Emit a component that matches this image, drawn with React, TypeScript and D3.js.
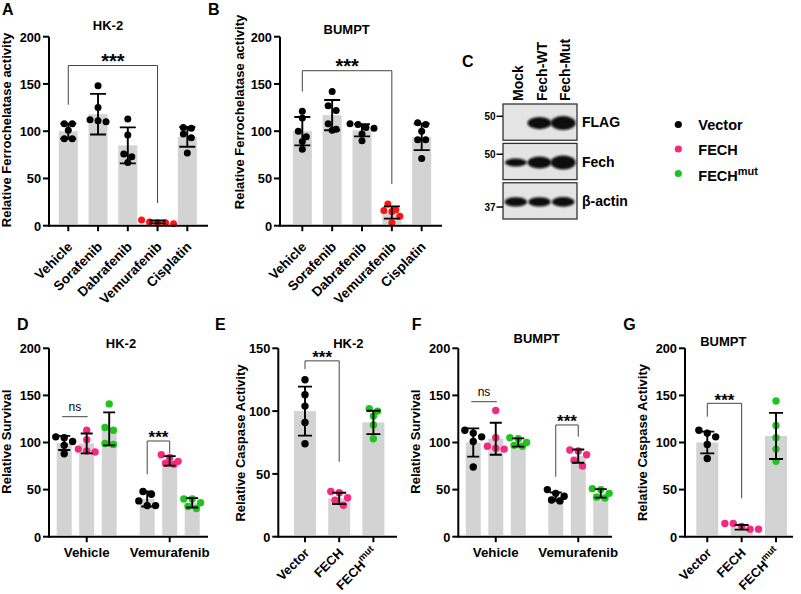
import React from "react";
import * as d3 from "d3";

const FONT = "'Liberation Sans', Arial, Helvetica, sans-serif";
const BAR_FILL = "#d3d3d3";
const C_BLACK = "#000000";
const C_FECH = "#f52a7e";
const C_MUT = "#1fc41f";
const C_RED = "#ff1414";

// ---------------- Panel A / B ----------------
const drugs = ["Vehicle", "Sorafenib", "Dabrafenib", "Vemurafenib", "Cisplatin"];
const drugColors = [C_BLACK, C_BLACK, C_BLACK, C_RED, C_BLACK];
const hk2FerroMean = [100, 118, 85, 4, 94];
const hk2FerroSd = [8, 21.5, 19, 1.5, 10.5];
const hk2FerroPts = [
  [108, 108, 101, 92, 92],
  [148, 125, 112, 111, 110],
  [113, 96, 76, 73, 67],
  [6, 4, 3, 3, 2],
  [104, 103, 97, 93, 77],
];
const bumptFerroMean = [100, 117, 101, 14, 94];
const bumptFerroSd = [15, 16, 6.5, 6.5, 14];
const bumptFerroPts = [
  [121, 114, 100, 94, 89, 81],
  [142, 127, 122, 108, 102, 101],
  [108, 107, 104, 103, 97, 90],
  [23, 17, 16, 15, 10, 3],
  [109, 107, 100, 91, 91, 71],
];

// ---------------- Panels D-G ----------------
const treatments = ["Vehicle", "Vemurafenib"];
const constructs = ["Vector", "FECH", "FECHmut"];
const constructColors = [C_BLACK, C_FECH, C_MUT];

const hk2SurvMean = [[99.5, 99, 114.5], [40, 80.5, 36]];
const hk2SurvSd = [[7.5, 10.5, 17.5], [8, 5, 5]];
const hk2SurvPts = [
  [[106, 105, 101, 97, 88], [113, 103, 93, 91, 90], [141, 116, 113, 99, 98]],
  [[48, 45, 38, 33, 33], [87, 84, 80, 78, 77], [40, 40, 36, 32, 30]],
];

const hk2CaspMean = [100, 30.5, 91];
const hk2CaspSd = [19.5, 4.5, 9.3];
const hk2CaspPts = [[125, 113, 104, 91, 74], [36, 35, 31, 29, 25], [102, 100, 96, 89, 78]];

const bumptSurvMean = [[100, 104, 100], [42.5, 85.5, 46]];
const bumptSurvSd = [[15, 17, 4.4], [4.5, 7, 4.5]];
const bumptSurvPts = [
  [[113, 110, 106, 101, 74], [134, 105, 96, 94, 93], [105, 104, 100, 97, 96]],
  [[50, 46, 43, 39, 38], [92, 91, 87, 81, 75], [51, 50, 46, 42, 41]],
];

const bumptCaspMean = [100, 10, 107];
const bumptCaspSd = [11.5, 2.5, 24.5];
const bumptCaspPts = [[113, 110, 106, 98, 83], [14, 14, 11, 8, 8], [144, 118, 105, 93, 80]];

const ticks200 = [0, 50, 100, 150, 200];
const ticks150 = [0, 50, 100, 150];

// ---------------- Panel C (blot) ----------------
const blotLanes = ["Mock", "Fech-WT", "Fech-Mut"];
const blotRows = ["FLAG", "Fech", "β-actin"];
const blotMarkers = ["50", "50", "37"];
const blotIntensity = [
  [0, 0.86, 1],
  [0.57, 0.86, 1],
  [0.66, 0.66, 0.68],
];

// ---------------- helpers ----------------
type Pt = { v: number; py: number; dx: number };
function swarm(vals: number[], y: (v: number) => number, r: number): Pt[] {
  const s: Pt[] = vals.map((v) => ({ v, py: y(v), dx: 0 })).sort((a, b) => a.py - b.py);
  const rows: Pt[][] = [];
  for (const p of s) {
    const row = rows[rows.length - 1];
    if (row && p.py - row[0].py < 2 * r * 0.9) row.push(p);
    else rows.push([p]);
  }
  rows.forEach((row) =>
    row.forEach((p, i) => {
      p.dx = (i - (row.length - 1) / 2) * (2 * r + 1);
    })
  );
  return s;
}

function BarDots(props: {
  cx: number; y: d3.ScaleLinear<number, number>; mean: number; sd: number;
  pts: number[]; color: string; barW: number; capW: number; r: number;
}) {
  const { cx, y, mean, sd, pts, color, barW, capW, r } = props;
  const y0 = y(0);
  const yt = y(mean + sd), yb = y(Math.max(0, mean - sd));
  return (
    <g>
      <rect x={cx - barW / 2} y={y(mean)} width={barW} height={Math.max(0, y0 - 1.5 - y(mean))} fill={BAR_FILL} />
      {swarm(pts, y, r).map((p, i) => (
        <circle key={i} cx={cx + p.dx} cy={p.py} r={r} fill={color} />
      ))}
      <path
        d={`M${cx},${yt}V${yb}M${cx - capW / 2},${yt}H${cx + capW / 2}M${cx - capW / 2},${yb}H${cx + capW / 2}`}
        stroke="#000" strokeWidth={1.9} fill="none"
      />
    </g>
  );
}

function Axes(props: { x0: number; x1: number; y: d3.ScaleLinear<number, number>; ticks: number[]; tickXs: number[] }) {
  const { x0, x1, y, ticks, tickXs } = props;
  const y0 = y(0);
  const yTop = y(ticks[ticks.length - 1]);
  return (
    <g>
      <line x1={x0} x2={x0} y1={yTop} y2={y0 + 1} stroke="#000" strokeWidth={2} />
      <line x1={x0} x2={x1} y1={y0} y2={y0} stroke="#000" strokeWidth={2} />
      {ticks.map((t) => (
        <g key={t}>
          <line x1={x0 - 6} x2={x0} y1={y(t)} y2={y(t)} stroke="#000" strokeWidth={2} />
          <text x={x0 - 8} y={y(t)} dy="0.38em" textAnchor="end" fontSize={12.8} fontWeight="bold">{t}</text>
        </g>
      ))}
      {tickXs.map((tx, i) => (
        <line key={i} x1={tx} x2={tx} y1={y0} y2={y0 + 5.5} stroke="#000" strokeWidth={2} />
      ))}
    </g>
  );
}

function YLabel(props: { x: number; cy: number; text: string }) {
  return (
    <text transform={`translate(${props.x},${props.cy}) rotate(-90)`} textAnchor="middle" fontSize={13} fontWeight="bold">
      {props.text}
    </text>
  );
}

function Bracket(props: { xa: number; xb: number; yv: number; la: number | null; lb: number | null; y: d3.ScaleLinear<number, number>; label: string; big?: number }) {
  const { xa, xb, yv, la, lb, y, label } = props;
  const yy = y(yv);
  let d = `M${xa},${la === null ? yy : y(la)}V${yy}H${xb}`;
  if (lb !== null) d += `V${y(lb)}`;
  const isNs = label === "ns";
  return (
    <g>
      <path d={d} stroke="#444" strokeWidth={1} fill="none" />
      <text
        x={(xa + xb) / 2}
        y={isNs ? yy - 6 : yy + 2.5}
        textAnchor="middle"
        fontSize={isNs ? 12 : props.big || 17}
        fontWeight={isNs ? "normal" : "bold"}
      >
        {label}
      </text>
    </g>
  );
}

function ConstructLabel(props: { name: string; sup?: number }) {
  if (props.name === "FECHmut")
    return (
      <>
        <tspan>FECH</tspan>
        <tspan dy={-6} fontSize={props.sup || 10}>mut</tspan>
      </>
    );
  return <tspan>{props.name}</tspan>;
}

// ---------------- panels ----------------
function DrugPanel(props: {
  x0: number; x1: number; range: [number, number]; title: string; titleX: number; titleY: number;
  letter: string; letterX: number; means: number[]; sds: number[]; pts: number[][];
  yLabX: number; yLabCy: number; br: { yv: number; la: number; lb: number };
}) {
  const y = d3.scaleLinear().domain([0, 200]).range([225.7, 36.7]);
  const x = d3.scaleBand().domain(drugs).range(props.range);
  const cx = (d: string) => (x(d) as number) + x.bandwidth() / 2;
  const y0 = y(0);
  return (
    <g>
      <text x={props.letterX} y={15} fontSize={16} fontWeight="bold">{props.letter}</text>
      <text x={props.titleX} y={props.titleY} textAnchor="middle" fontSize={13} fontWeight="bold">{props.title}</text>
      <YLabel x={props.yLabX} cy={props.yLabCy} text="Relative Ferrochelatase activity" />
      {drugs.map((d, i) => (
        <BarDots key={d} cx={cx(d)} y={y} mean={props.means[i]} sd={props.sds[i]} pts={props.pts[i]}
          color={drugColors[i]} barW={19} capW={16} r={3.5} />
      ))}
      <Axes x0={props.x0} x1={props.x1} y={y} ticks={ticks200} tickXs={drugs.map(cx)} />
      <Bracket xa={cx(drugs[0])} xb={cx(drugs[3])} yv={props.br.yv} la={props.br.la} lb={props.br.lb} y={y} label="***" big={20} />
      {drugs.map((d) => (
        <text key={d} transform={`translate(${cx(d) + 5},${y0 + 22}) rotate(-45)`} textAnchor="end" fontSize={13.5} fontWeight="bold">{d}</text>
      ))}
    </g>
  );
}

function GroupedPanel(props: {
  x0: number; x1: number; range: [number, number]; title: string; titleX: number; titleY: number;
  letter: string; letterX: number; means: number[][]; sds: number[][]; pts: number[][][];
  yLabX: number; yLabCy: number; ns: number; star: { yv: number; la: number; lb: number };
}) {
  const y = d3.scaleLinear().domain([0, 200]).range([536.7, 348.3]);
  const g = d3.scaleBand().domain(treatments).range(props.range);
  const inner = d3.scaleBand().domain(constructs).range([-33.75, 33.75]);
  const gc = (t: string) => (g(t) as number) + g.bandwidth() / 2;
  const cx = (t: string, c: string) => gc(t) + (inner(c) as number) + inner.bandwidth() / 2;
  const y0 = y(0);
  return (
    <g>
      <text x={props.letterX} y={330} fontSize={16} fontWeight="bold">{props.letter}</text>
      <text x={props.titleX} y={props.titleY} textAnchor="middle" fontSize={13} fontWeight="bold">{props.title}</text>
      <YLabel x={props.yLabX} cy={props.yLabCy} text="Relative Survival" />
      {treatments.map((t, ti) =>
        constructs.map((c, ci) => (
          <BarDots key={t + c} cx={cx(t, c)} y={y} mean={props.means[ti][ci]} sd={props.sds[ti][ci]}
            pts={props.pts[ti][ci]} color={constructColors[ci]} barW={15} capW={12} r={3.7} />
        ))
      )}
      <Axes x0={props.x0} x1={props.x1} y={y} ticks={ticks200} tickXs={treatments.map(gc)} />
      <Bracket xa={cx(treatments[0], constructs[0]) - 2} xb={cx(treatments[0], constructs[1]) + 1} yv={props.ns} la={null} lb={null} y={y} label="ns" />
      <Bracket xa={cx(treatments[1], constructs[0])} xb={cx(treatments[1], constructs[1])} yv={props.star.yv} la={props.star.la} lb={props.star.lb} y={y} label="***" />
      {treatments.map((t) => (
        <text key={t} x={gc(t)} y={y0 + 20} textAnchor="middle" fontSize={13.3} fontWeight="bold">{t}</text>
      ))}
    </g>
  );
}

function CaspPanel(props: {
  x0: number; x1: number; range: [number, number]; max: number; ticks: number[]; title: string; titleX: number; titleY: number;
  letter: string; letterX: number; means: number[]; sds: number[]; pts: number[][];
  yLabX: number; yLabCy: number; star: { yv: number; la: number; lb: number };
}) {
  const y = d3.scaleLinear().domain([0, props.max]).range([536.7, 348.3]);
  const x = d3.scaleBand().domain(constructs).range(props.range);
  const cx = (c: string) => (x(c) as number) + x.bandwidth() / 2;
  const y0 = y(0);
  return (
    <g>
      <text x={props.letterX} y={330} fontSize={16} fontWeight="bold">{props.letter}</text>
      <text x={props.titleX} y={props.titleY} textAnchor="middle" fontSize={13} fontWeight="bold">{props.title}</text>
      <YLabel x={props.yLabX} cy={props.yLabCy} text="Relative Caspase Activity" />
      {constructs.map((c, i) => (
        <BarDots key={c} cx={cx(c)} y={y} mean={props.means[i]} sd={props.sds[i]} pts={props.pts[i]}
          color={constructColors[i]} barW={22} capW={14} r={3.7} />
      ))}
      <Axes x0={props.x0} x1={props.x1} y={y} ticks={props.ticks} tickXs={constructs.map(cx)} />
      <Bracket xa={cx(constructs[0])} xb={cx(constructs[1])} yv={props.star.yv} la={props.star.la} lb={props.star.lb} y={y} label="***" />
      {constructs.map((c) => (
        <text key={c} transform={`translate(${cx(c) + 5},${y0 + 17}) rotate(-45)`} textAnchor="end" fontSize={12.8} fontWeight="bold">
          <ConstructLabel name={c} sup={9.5} />
        </text>
      ))}
    </g>
  );
}

function Blot() {
  const lane = d3.scaleBand().domain(blotLanes).range([504, 575]);
  const row = d3.scaleBand().domain(blotRows).range([104, 219]).paddingInner(0.08);
  const boxX0 = 503, boxX1 = 577;
  const markerFrac = [0.34, 0.3, 0.67];
  return (
    <g>
      <defs>
        <filter id="bandBlur" x="-30%" y="-50%" width="160%" height="200%">
          <feGaussianBlur stdDeviation="0.8" />
        </filter>
      </defs>
      <text x={462} y={67} fontSize={16} fontWeight="bold">C</text>
      {blotLanes.map((l) => {
        const c = (lane(l) as number) + lane.bandwidth() / 2;
        return (
          <text key={l} transform={`translate(${c + 7},101) rotate(-90)`} fontSize={14} fontWeight="bold">{l}</text>
        );
      })}
      {blotRows.map((r, ri) => {
        const top = row(r) as number;
        const h = row.bandwidth();
        const cy = top + h / 2;
        const my = top + h * markerFrac[ri];
        return (
          <g key={r}>
            <rect x={boxX0} y={top} width={boxX1 - boxX0} height={h} fill="#e4e4e4" stroke="#333" strokeWidth={1.3} />
            {blotLanes.map((l, li) => {
              const I = blotIntensity[ri][li];
              if (I <= 0) return null;
              const c = (lane(l) as number) + lane.bandwidth() / 2;
              return (
                <ellipse key={l} cx={c} cy={cy + 1} rx={(18 + 7 * I) / 2} ry={(14 * I) / 2} fill="#0e0e0e" filter="url(#bandBlur)" />
              );
            })}
            <line x1={496.5} x2={503} y1={my} y2={my} stroke="#000" strokeWidth={1.5} />
            <text x={495.5} y={my} dy="0.35em" textAnchor="end" fontSize={10} fontWeight="bold">{blotMarkers[ri]}</text>
            <text x={582} y={cy} dy="0.38em" fontSize={14} fontWeight="bold">{r}</text>
          </g>
        );
      })}
    </g>
  );
}

function Legend() {
  const ly = d3.scalePoint().domain(constructs).range([124.5, 173.5]);
  return (
    <g>
      {constructs.map((c, i) => (
        <g key={c}>
          <circle cx={678.3} cy={ly(c) as number} r={3.6} fill={constructColors[i]} />
          <text x={698.3} y={(ly(c) as number) + 5.5 + (c === "FECHmut" ? 2 : 0)} fontSize={14.5} fontWeight="bold">
            <ConstructLabel name={c} sup={11} />
          </text>
        </g>
      ))}
    </g>
  );
}

export default function App() {
  return (
    <svg width={801} height={594} viewBox="0 0 801 594"
      style={{ position: "absolute", left: 0, top: 0, background: "#fff", fontFamily: FONT }}>
      <rect width={801} height={594} fill="#fff" />
      <DrugPanel x0={49} x1={208} range={[53.4, 202.2]} title="HK-2" titleX={108} titleY={29.5} letter="A" letterX={2}
        means={hk2FerroMean} sds={hk2FerroSd} pts={hk2FerroPts} yLabX={11} yLabCy={130}
        br={{ yv: 169.5, la: 128, lb: 24 }} />
      <DrugPanel x0={280} x1={442} range={[287.4, 436.6]} title="BUMPT" titleX={346.7} titleY={33.5} letter="B" letterX={208}
        means={bumptFerroMean} sds={bumptFerroSd} pts={bumptFerroPts} yLabX={244} yLabCy={112}
        br={{ yv: 164, la: 142, lb: 44 }} />
      <Blot />
      <Legend />
      <GroupedPanel x0={49} x1={208} range={[45.2, 211.2]} title="HK-2" titleX={121} titleY={347.7} letter="D" letterX={17}
        means={hk2SurvMean} sds={hk2SurvSd} pts={hk2SurvPts} yLabX={11} yLabCy={441.7}
        ns={127.4} star={{ yv: 101.6, la: 66.2, lb: 88.5 }} />
      <CaspPanel x0={278.3} x1={397} range={[287.9, 390.5]} max={150} ticks={ticks150} title="HK-2" titleX={348.3} titleY={348}
        letter="E" letterX={215} means={hk2CaspMean} sds={hk2CaspSd} pts={hk2CaspPts} yLabX={244.5} yLabCy={443}
        star={{ yv: 140, la: 133.4, lb: 59.7 }} />
      <GroupedPanel x0={458.3} x1={612} range={[454.5, 619.5]} title="BUMPT" titleX={536.7} titleY={342.7} letter="F" letterX={411.7}
        means={bumptSurvMean} sds={bumptSurvSd} pts={bumptSurvPts} yLabX={419.5} yLabCy={441.7}
        ns={143.3} star={{ yv: 118.6, la: 63.7, lb: 106.2 }} />
      <CaspPanel x0={685} x1={793} range={[690.1, 793.2]} max={200} ticks={ticks200} title="BUMPT" titleX={723.3} titleY={346}
        letter="G" letterX={623.3} means={bumptCaspMean} sds={bumptCaspSd} pts={bumptCaspPts} yLabX={647} yLabCy={442.5}
        star={{ yv: 141.6, la: 127.4, lb: 40.8 }} />
    </svg>
  );
}
